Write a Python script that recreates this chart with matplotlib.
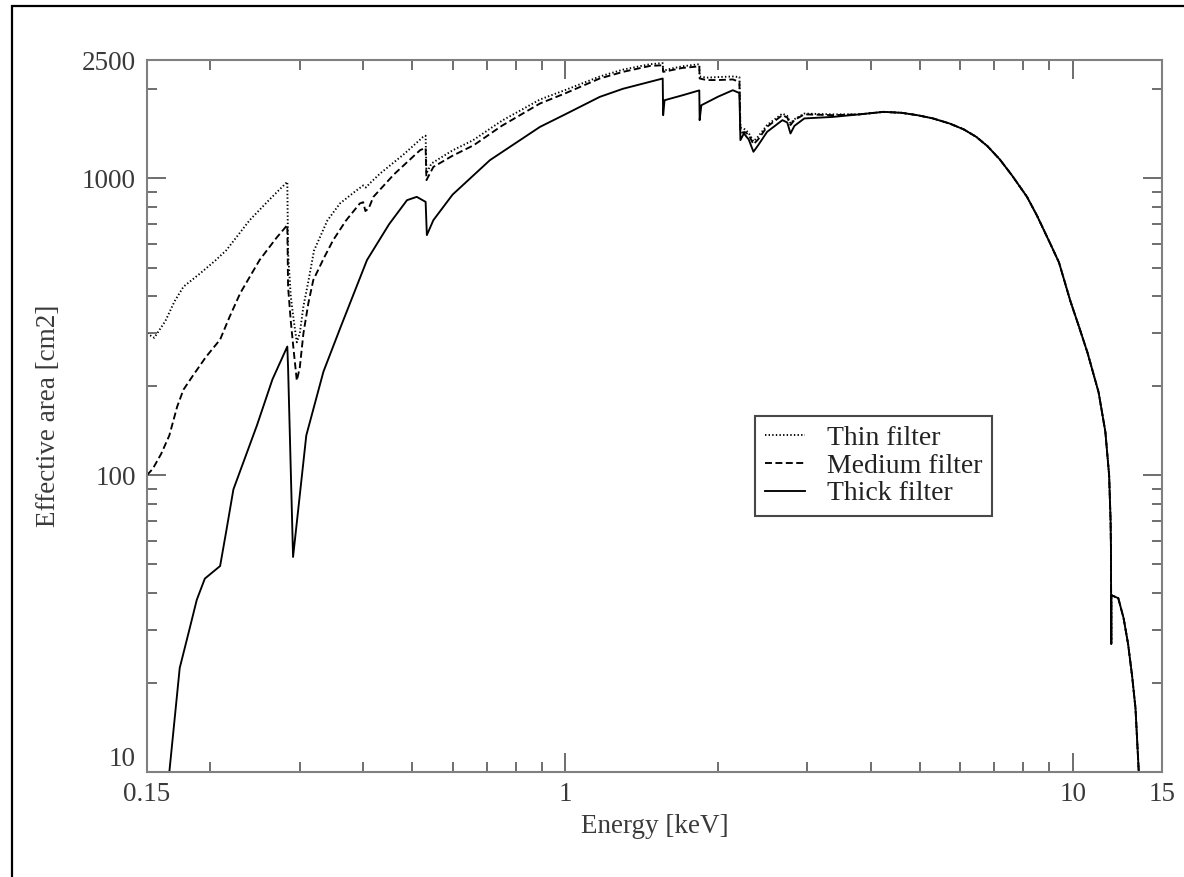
import matplotlib
matplotlib.use("Agg")
import matplotlib.pyplot as plt
from matplotlib.patches import Rectangle
from matplotlib.ticker import FixedLocator, NullFormatter

plt.rcParams['font.family'] = ['Liberation Serif', 'DejaVu Serif']
plt.rcParams['lines.scale_dashes'] = False

# ---- effective area curves (energy in keV, area in cm2) ----
# shared high-energy part, where the three filters no longer differ
energy_tail = [3.80, 4.24, 4.60, 4.94, 5.30, 5.72, 6.10, 6.46, 6.80, 7.19,
               7.60, 8.13, 8.50, 9.03, 9.40, 9.90, 10.30, 10.70, 11.25, 11.60,
               11.80, 11.88, 11.90, 11.915, 11.920, 12.30, 12.60, 12.86, 13.10,
               13.30, 13.50, 13.60]
area_tail = [1640, 1672, 1660, 1630, 1590, 1528, 1460, 1377, 1280, 1155,
             1020, 865, 750, 603, 520, 385, 315, 258, 190, 140,
             100, 70, 56, 27, 39.4, 38.5, 33, 27, 21,
             16.4, 10, 8.5]

energy_thin = [0.150, 0.155, 0.163, 0.170, 0.177, 0.191, 0.205, 0.215, 0.239,
               0.262, 0.2835, 0.2845, 0.288, 0.292, 0.296, 0.300, 0.305, 0.312,
               0.320, 0.340, 0.360, 0.385, 0.400, 0.405, 0.412, 0.432, 0.480,
               0.525, 0.531, 0.533, 0.545, 0.600, 0.659, 0.750, 0.892, 1.000,
               1.170, 1.300, 1.470, 1.557, 1.560, 1.620, 1.700, 1.838, 1.841,
               1.900, 2.000, 2.140, 2.205, 2.215, 2.260, 2.300, 2.350, 2.400,
               2.500, 2.680, 2.740, 2.780, 2.830, 2.960, 3.370]
area_thin = [300, 290, 330, 385, 431, 478, 530, 572, 722,
             850, 972, 560, 400, 330, 280, 300, 370, 450,
             570, 720, 822, 900, 945, 930, 960, 1037, 1200,
             1377, 1390, 1037, 1120, 1240, 1343, 1560, 1840, 1980,
             2200, 2320, 2420, 2440, 2300, 2340, 2380, 2420, 2200,
             2180, 2190, 2200, 2190, 1480, 1460, 1420, 1330, 1380,
             1510, 1650, 1620, 1530, 1580, 1650, 1640]

energy_medium = [0.150, 0.154, 0.160, 0.166, 0.172, 0.177, 0.185, 0.196, 0.209,
                 0.218, 0.229, 0.250, 0.270, 0.2835, 0.2845, 0.288, 0.292, 0.296,
                 0.300, 0.305, 0.312, 0.319, 0.335, 0.349, 0.370, 0.394, 0.400,
                 0.404, 0.410, 0.419, 0.460, 0.518, 0.531, 0.533, 0.550, 0.600,
                 0.660, 0.750, 0.892, 1.000, 1.170, 1.300, 1.470, 1.557, 1.560,
                 1.620, 1.700, 1.838, 1.841, 1.900, 2.000, 2.140, 2.205, 2.215,
                 2.260, 2.300, 2.350, 2.400, 2.500, 2.680, 2.740, 2.780, 2.830,
                 2.960, 3.370]
area_medium = [100, 105, 118, 136, 170, 194, 217, 250, 286,
               340, 410, 530, 630, 695, 430, 330, 260, 208,
               230, 300, 380, 454, 540, 618, 720, 822, 830,
               775, 790, 865, 1030, 1243, 1265, 985, 1091, 1190,
               1290, 1500, 1784, 1930, 2166, 2280, 2388, 2400, 2280,
               2310, 2350, 2380, 2166, 2140, 2140, 2150, 2110, 1420,
               1430, 1400, 1300, 1350, 1490, 1630, 1600, 1510, 1570,
               1640, 1630]

energy_thick = [0.164, 0.166, 0.174, 0.182, 0.188, 0.195, 0.209, 0.215, 0.222,
                0.247, 0.265, 0.2835, 0.2845, 0.291, 0.309, 0.334, 0.360, 0.407,
                0.450, 0.488, 0.510, 0.531, 0.534, 0.550, 0.600, 0.711, 0.892,
                1.000, 1.170, 1.300, 1.530, 1.557, 1.560, 1.570, 1.700, 1.838,
                1.841, 1.855, 2.000, 2.140, 2.205, 2.215, 2.250, 2.300, 2.350,
                2.400, 2.500, 2.680, 2.740, 2.780, 2.830, 2.960, 3.370]
area_thick = [9, 10, 22.4, 30.4, 38, 44.8, 49.4, 65, 89.5,
              147, 210, 271, 230, 53, 136, 223, 311, 530,
              700, 843, 865, 832, 643, 722, 880, 1150, 1488,
              1640, 1878, 2000, 2149, 2166, 1630, 1830, 1900, 1975,
              1568, 1760, 1880, 1978, 1935, 1343, 1414, 1350, 1227,
              1290, 1432, 1568, 1540, 1414, 1500, 1589, 1608]

series_labels = ["Thin filter", "Medium filter", "Thick filter"]

x_ticks = [0.15, 1, 10, 15]
x_ticklabels = ["0.15", "1", "10", "15"]
y_ticks = [10, 100, 1000, 2500]
y_ticklabels = ["10", "100", "1000", "2500"]

# ---- figure ----
W, H = 1184, 877
fig = plt.figure(figsize=(W / 100, H / 100), dpi=100)
ax = fig.add_axes([147 / W, 1 - 772 / H, (1162 - 147) / W, (772 - 60) / H])

line_kw = dict(color="black", lw=1.35)
ax.plot(energy_thin + energy_tail, area_thin + area_tail,
        dashes=(1.0, 1.6), label=series_labels[0], **line_kw)
ax.plot(energy_medium + energy_tail, area_medium + area_tail,
        dashes=(5.0, 2.5), label=series_labels[1], **line_kw)
ax.plot(energy_thick + energy_tail, area_thick + area_tail,
        ls="-", label=series_labels[2], **line_kw)

ax.set_xscale("log")
ax.set_yscale("log")
ax.set_xlim(0.15, 15)
ax.set_ylim(10, 2500)

ax.xaxis.set_major_locator(FixedLocator(x_ticks))
ax.set_xticklabels(x_ticklabels)
ax.xaxis.set_minor_locator(FixedLocator([0.2, 0.3, 0.4, 0.5, 0.6, 0.7, 0.8, 0.9,
                                         2, 3, 4, 5, 6, 7, 8, 9]))
ax.xaxis.set_minor_formatter(NullFormatter())
ax.yaxis.set_major_locator(FixedLocator(y_ticks))
ax.set_yticklabels(y_ticklabels)
ax.yaxis.set_minor_locator(FixedLocator([20, 30, 40, 50, 60, 70, 80, 90,
                                         200, 300, 400, 500, 600, 700, 800, 900,
                                         2000]))
ax.yaxis.set_minor_formatter(NullFormatter())

spine_col = "#808080"
for s in ax.spines.values():
    s.set_color(spine_col)
    s.set_linewidth(1.5)

ax.tick_params(which="both", direction="in", top=True, right=True,
               color="#555555", width=1.2, labelcolor="#3a3a3a", labelsize=19.5)
ax.tick_params(which="major", length=14)
ax.tick_params(which="minor", length=7)
ax.tick_params(axis="x", which="major", pad=7)
ax.tick_params(axis="y", which="major", pad=8)
# lift the bottom y label a little so it sits above the first x label
ax.get_yticklabels()[0].set_verticalalignment("bottom")

ax.set_xlabel("Energy [keV]", fontsize=19.5, color="#3a3a3a", labelpad=5)
ax.set_ylabel("Effective area [cm2]", fontsize=19.5, color="#3a3a3a", labelpad=15)

leg = ax.legend(loc="upper left", bbox_to_anchor=((755 - 147) / 1015, (772 - 416) / 712),
                borderaxespad=0, fontsize=20, frameon=True, fancybox=False,
                handlelength=1.45, handletextpad=0.8, labelspacing=0.08,
                borderpad=0.35)
leg.get_frame().set_edgecolor("#1a1a1a")
leg.get_frame().set_linewidth(1.5)
for t in leg.get_texts():
    t.set_color("#222222")

# page frame around the plot
fig.add_artist(Rectangle((12 / W, -0.5), 2.0, 1 - 6 / H + 0.5,
                         transform=fig.transFigure, fill=False,
                         ec="black", lw=1.6, clip_on=False))

fig.savefig("out.png", dpi=100)
